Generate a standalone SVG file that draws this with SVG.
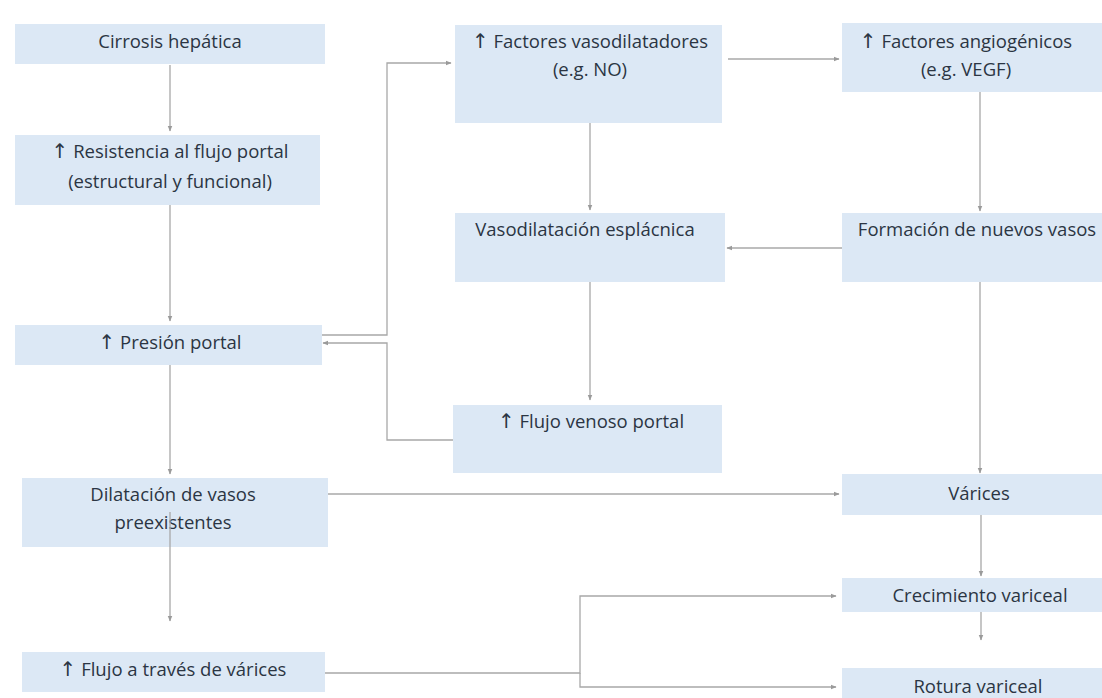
<svg xmlns="http://www.w3.org/2000/svg" width="1102" height="698" viewBox="0 0 1102 698">
  <style>
    .box { fill: #dce8f5; }
    .lbl { font-family: "Open Sans", "Liberation Sans", sans-serif; font-size: 18.5px; fill: #2b3543; text-anchor: middle; }
    .up { font-family: "DejaVu Sans", sans-serif; font-size: 20px; }
    .edge { fill: none; stroke: #a8a8a8; stroke-width: 1.3; }
  </style>
  <defs>
    <marker id="arr" viewBox="0 0 10 10" refX="9" refY="5" markerWidth="6" markerHeight="6" orient="auto" markerUnits="userSpaceOnUse">
      <path d="M0,1 L10,5 L0,9 z" fill="#9a9a9a"/>
    </marker>
  </defs>
  <rect width="1102" height="698" fill="#ffffff"/>

  <!-- left column -->
  <g id="cirrosis">
    <rect class="box" x="15" y="24" width="310" height="40"/>
    <text class="lbl" x="170" y="48">Cirrosis hepática</text>
  </g>
  <g id="resistencia">
    <rect class="box" x="15" y="135" width="305" height="70"/>
    <text class="lbl" x="170" y="158"><tspan class="up">↑</tspan> Resistencia al flujo portal</text>
    <text class="lbl" x="170" y="188">(estructural y funcional)</text>
  </g>
  <g id="presion">
    <rect class="box" x="15" y="325" width="307" height="40"/>
    <text class="lbl" x="170" y="349"><tspan class="up">↑</tspan> Presión portal</text>
  </g>
  <g id="dilatacion">
    <rect class="box" x="22" y="478" width="306" height="69"/>
    <text class="lbl" x="173" y="501">Dilatación de vasos</text>
    <text class="lbl" x="173" y="529">preexistentes</text>
  </g>
  <g id="flujo-varices">
    <rect class="box" x="22" y="652" width="303" height="40"/>
    <text class="lbl" x="173" y="676"><tspan class="up">↑</tspan> Flujo a través de várices</text>
  </g>

  <!-- middle column -->
  <g id="vasodilatadores">
    <rect class="box" x="455" y="25" width="267" height="98"/>
    <text class="lbl" x="590" y="48"><tspan class="up">↑</tspan> Factores vasodilatadores</text>
    <text class="lbl" x="590" y="76">(e.g. NO)</text>
  </g>
  <g id="vasodilatacion">
    <rect class="box" x="455" y="213" width="270" height="69"/>
    <text class="lbl" x="585" y="236">Vasodilatación esplácnica</text>
  </g>
  <g id="flujo-venoso">
    <rect class="box" x="453" y="405" width="269" height="68"/>
    <text class="lbl" x="591" y="428"><tspan class="up">↑</tspan> Flujo venoso portal</text>
  </g>

  <!-- right column -->
  <g id="angiogenicos">
    <rect class="box" x="842" y="23" width="260" height="69"/>
    <text class="lbl" x="966" y="48"><tspan class="up">↑</tspan> Factores angiogénicos</text>
    <text class="lbl" x="966" y="76">(e.g. VEGF)</text>
  </g>
  <g id="nuevos-vasos">
    <rect class="box" x="842" y="213" width="260" height="69"/>
    <text class="lbl" x="977" y="236">Formación de nuevos vasos</text>
  </g>
  <g id="varices">
    <rect class="box" x="842" y="474" width="260" height="41"/>
    <text class="lbl" x="979" y="500">Várices</text>
  </g>
  <g id="crecimiento">
    <rect class="box" x="842" y="578" width="260" height="34"/>
    <text class="lbl" x="980" y="602">Crecimiento variceal</text>
  </g>
  <g id="rotura">
    <rect class="box" x="842" y="668" width="260" height="30"/>
    <text class="lbl" x="978" y="693">Rotura variceal</text>
  </g>

  <!-- connectors, drawn last so the one leaving "Dilatación" shows over its box -->
  <g id="connectors">
    <path class="edge" d="M170,65 V131" marker-end="url(#arr)"/>
    <path class="edge" d="M170,205 V321" marker-end="url(#arr)"/>
    <path class="edge" d="M170,365 V474" marker-end="url(#arr)"/>
    <path class="edge" d="M170,512 V621" marker-end="url(#arr)"/>
    <path class="edge" d="M322,335 H387 V63 H451" marker-end="url(#arr)"/>
    <path class="edge" d="M453,440 H387 V343 H323" marker-end="url(#arr)"/>
    <path class="edge" d="M728,59 H839" marker-end="url(#arr)"/>
    <path class="edge" d="M590,123 V210" marker-end="url(#arr)"/>
    <path class="edge" d="M590,282 V400" marker-end="url(#arr)"/>
    <path class="edge" d="M980,92 V211" marker-end="url(#arr)"/>
    <path class="edge" d="M842,248 H727" marker-end="url(#arr)"/>
    <path class="edge" d="M980,282 V473" marker-end="url(#arr)"/>
    <path class="edge" d="M328,494 H839" marker-end="url(#arr)"/>
    <path class="edge" d="M981,515 V576" marker-end="url(#arr)"/>
    <path class="edge" d="M981,612 V640" marker-end="url(#arr)"/>
    <path class="edge" d="M325,673 H580 V596 H836" marker-end="url(#arr)"/>
    <path class="edge" d="M580,673 V687 H836" marker-end="url(#arr)"/>
  </g>
</svg>
